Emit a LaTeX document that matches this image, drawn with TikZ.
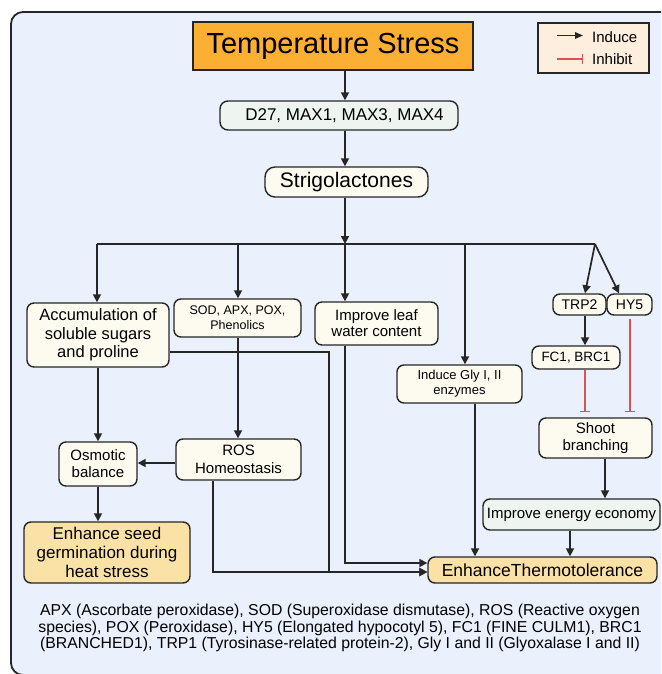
\documentclass[tikz,border=0pt]{standalone}
\usepackage{fontspec}
\setmainfont{Liberation Sans}
\usetikzlibrary{arrows.meta,calc}
\definecolor{bgc}{RGB}{234,240,252}
\definecolor{orangec}{RGB}{251,176,52}
\definecolor{goldc}{RGB}{250,226,166}
\definecolor{creamc}{RGB}{253,250,240}
\definecolor{greenc}{RGB}{238,244,240}
\definecolor{legc}{RGB}{253,238,222}
\definecolor{linec}{RGB}{38,38,38}
\definecolor{redc}{RGB}{214,84,84}
\newcommand{\myfs}[2]{\fontsize{#1}{#2}\selectfont}
\begin{document}
\begin{tikzpicture}[x=1pt,y=-1pt,
  box/.style={draw=linec, line width=1.4pt, rounded corners=7pt, inner sep=0pt, align=center, text=black},
  creambox/.style={box, fill=creamc},
  goldbox/.style={box, fill=goldc},
  greenbox/.style={box, fill=greenc},
  arr/.style={draw=linec, line width=1.7pt, -{Triangle[length=8pt,width=8pt]}},
  ln/.style={draw=linec, line width=1.7pt},
  inh/.style={draw=redc, line width=1.4pt, -{Bar[width=10pt,line width=1.4pt]}}
]
\useasboundingbox (0,0) rectangle (661,674);
\begin{scope}
\clip (0,0) rectangle (661,674);
\draw[line width=1.8pt, draw=linec, fill=bgc, rounded corners=12pt] (11,12) rectangle (690,675);
\end{scope}

% nodes
\node[box, fill=orangec, rounded corners=0pt, minimum width=280pt, minimum height=48pt, font=\myfs{29}{32}] (temp) at (333,46) {Temperature Stress};
\node[greenbox, rounded corners=8pt, minimum width=238pt, minimum height=29pt, font=\myfs{17}{20}] (d27) at (339,115.5) {\hspace*{11pt}D27, MAX1, MAX3, MAX4};
\node[creambox, rounded corners=10pt, minimum width=163pt, minimum height=30pt, font=\myfs{21}{24}] (strigo) at (346.5,182) {Strigolactones};
\node[creambox, minimum width=142pt, minimum height=64pt, font=\myfs{16.5}{18.5}] (acc) at (98,335) {Accumulation of\\soluble sugars\\and proline};
\node[creambox, minimum width=127pt, minimum height=38pt, font=\myfs{12.5}{15}] (sod) at (237.5,318) {SOD, APX, POX,\\Phenolics};
\node[creambox, minimum width=123pt, minimum height=43pt, font=\myfs{15}{16}] (leaf) at (376.5,323.5) {Improve leaf\\water content};
\node[creambox, minimum width=125pt, minimum height=38pt, font=\myfs{13}{15}] (gly) at (459.5,384) {Induce Gly I, II\\enzymes};
\node[creambox, minimum width=53pt, minimum height=21pt, font=\myfs{14}{16}] (trp) at (579.5,304.5) {TRP2};
\node[creambox, minimum width=45pt, minimum height=21pt, font=\myfs{14}{16}] (hy) at (629.5,304.5) {HY5};
\node[creambox, minimum width=88pt, minimum height=23pt, font=\myfs{13.5}{16}] (fc) at (576,357.5) {FC1, BRC1};
\node[creambox, minimum width=113pt, minimum height=40pt, font=\myfs{15}{17}] (shoot) at (595.5,438) {Shoot\\branching};
\node[greenbox, minimum width=177pt, minimum height=31pt, font=\myfs{15}{17}] (energy) at (571.5,514.5) {Improve energy economy};
\node[goldbox, minimum width=229pt, minimum height=26pt, font=\myfs{17.5}{20}] (thermo) at (542.5,570) {EnhanceThermotolerance};
\node[creambox, minimum width=78pt, minimum height=44pt, font=\myfs{15}{17}] (osm) at (98,464) {Osmotic\\balance};
\node[creambox, minimum width=125pt, minimum height=41pt, font=\myfs{15}{18}] (ros) at (238.5,459.5) {ROS\\Homeostasis};
\node[goldbox, minimum width=166pt, minimum height=61pt, font=\myfs{17}{19}] (seed) at (107,552.5) {Enhance seed\\germination during\\heat stress};

% legend
\node[draw=linec, fill=legc, line width=1.4pt, minimum width=111pt, minimum height=50pt, inner sep=0pt] (leg) at (593.5,48) {};
\node[anchor=west, font=\myfs{15}{18}, inner sep=0pt] (indt) at (592,37) {Induce};
\node[anchor=west, font=\myfs{15}{18}, inner sep=0pt] (inht) at (592,59) {Inhibit};
\draw[draw=linec, line width=1.5pt, -{Triangle[length=8pt,width=6.5pt]}] ($(indt.west)+(-35,-1.5)$) coordinate (ia) -- ($(indt.west)+(-9,-1.5)$) coordinate (ib);
\draw[inh] ($(inht.west)+(-35,0)$) coordinate (ha) -- ($(inht.west)+(-9,0)$) coordinate (hb);

% footer
\node[font=\myfs{15.8}{16.3}, align=center, inner sep=0pt] (foot) at (340,628) {APX (Ascorbate peroxidase), SOD (Superoxidase dismutase), ROS (Reactive oxygen\\species), POX (Peroxidase), HY5 (Elongated hypocotyl 5), FC1 (FINE CULM1), BRC1\\(BRANCHED1), TRP1 (Tyrosinase-related protein-2), Gly I and II (Glyoxalase I and II)};

% helper coordinates
\coordinate (busL) at (97,244);
\coordinate (busM) at (345,244);
\coordinate (busR) at (595,244);
\coordinate (gx) at (465,244);
\coordinate (sodx) at (238,0);
\coordinate (rx) at (585,0);
\coordinate (hx) at (619,0);
\coordinate (hix) at (630,0);
\coordinate (sx) at (605,0);
\coordinate (ex) at (570,0);
\coordinate (gtx) at (475,0);
\coordinate (ay) at (0,352);
\coordinate (cx) at (329,0);
\coordinate (ly) at (0,572);
\coordinate (rsx) at (213,0);
\coordinate (oy) at (0,463);

% connectors
\draw[arr] (temp.south -| busM) -- (d27.north -| busM);
\draw[arr] (d27.south -| busM) -- (strigo.north -| busM);
\draw[arr] (strigo.south -| busM) -- (busM);
\draw[ln] (busL) -- (busR);
\draw[arr] (busL) -- (acc.north -| busL);
\draw[arr] (sodx |- busL) -- (sod.north -| sodx);
\draw[arr] (busM) -- (leaf.north -| busM);
\draw[arr] (gx) -- (gly.north -| gx);
\draw[arr] (busR) -- (trp.north -| rx);
\draw[arr] (busR) -- (hy.north -| hx);
\draw[arr] (trp.south -| rx) -- (fc.north -| rx);
\draw[inh, shorten >=5pt] (fc.south -| rx) -- (shoot.north -| rx);
\draw[inh, shorten >=5pt, shorten <=3pt] (hy.south -| hix) -- (shoot.north -| hix);
\draw[arr] (shoot.south -| sx) -- (energy.north -| sx);
\draw[arr] (energy.south -| ex) -- (thermo.north -| ex);
\draw[arr] (gly.south -| gtx) -- (thermo.north -| gtx);
\draw[arr] (leaf.south -| busM) |- ($(thermo.west)+(0,-7)$);
\draw[arr] (acc.east |- ay) -| (cx |- ly) -- (thermo.west |- ly);
\draw[arr] (ros.south -| rsx) |- (thermo.west |- ly);
\draw[arr] (acc.south) -- (osm.north);
\draw[arr] (sod.south -| sodx) -- (ros.north -| sodx);
\draw[arr] (ros.west |- oy) -- (osm.east |- oy);
\draw[arr] (osm.south) -- (seed.north -| osm.south);
\end{tikzpicture}
\end{document}
